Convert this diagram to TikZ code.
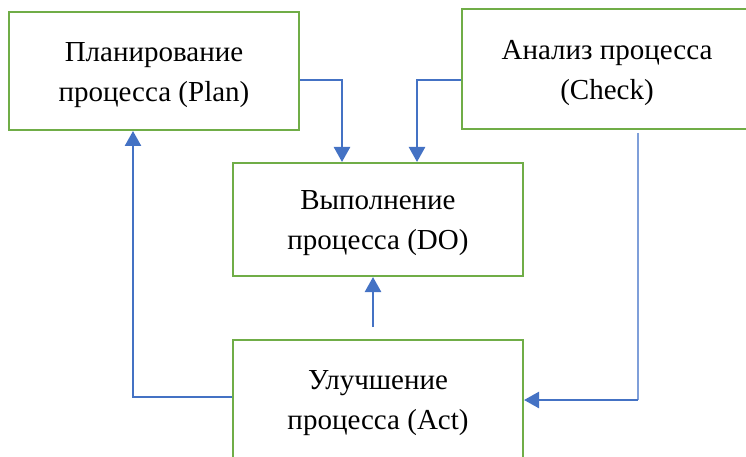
\documentclass[tikz,border=0pt]{standalone}
\usepackage{fontspec}
\setmainfont{Liberation Serif}
\usetikzlibrary{arrows.meta}
\definecolor{boxgreen}{HTML}{70AD47}
\definecolor{linkblue}{HTML}{4472C4}
\definecolor{lightblue}{HTML}{7F9FD9}
\newcommand\liftline{\rule{0pt}{27pt}}
\begin{document}
\begin{tikzpicture}[x=1pt,y=-1pt,
  stepbox/.style={draw=boxgreen,line width=2pt,fill=white,minimum width=290pt,
    align=center,inner sep=0pt,font=\fontsize{29}{40}\selectfont},
  link/.style={draw=linkblue,line width=2.5pt,-{Triangle[length=15pt,width=16pt]}},
  thinlink/.style={draw=lightblue,line width=1.5pt}]
\useasboundingbox (0,0) rectangle (746,457);
\node[stepbox,minimum height=118pt] (plan) at (154,71) {\liftline Планирование\\процесса (Plan)};
\node[stepbox,minimum height=119.5pt] (check) at (607,69.25) {\liftline Анализ процесса\\(Check)};
\node[stepbox,minimum height=113pt] (do) at (378,219.5) {\liftline Выполнение\\процесса (DO)};
\node[stepbox,minimum height=118pt] (act) at (378,399) {\liftline Улучшение\\процесса (Act)};
\draw[link] ([yshift=-9pt]plan.east) -| ([xshift=-36pt]do.north);
\draw[link] ([yshift=-11pt]check.west) -| ([xshift=39pt]do.north);
\draw[link] ([xshift=-5pt,yshift=12pt]act.north) -- ([xshift=-5pt]do.south);
\draw[link] ([yshift=2pt]act.west) -| ([xshift=-21pt]plan.south);
\coordinate (corner) at ([xshift=31pt]check.south |- act.east);
\draw[thinlink] ([xshift=31pt,yshift=-3pt]check.south) -- ([yshift=-1pt]corner);
\draw[link] ([yshift=-1pt]corner) -- ([yshift=-1pt]act.east);
\end{tikzpicture}
\end{document}
